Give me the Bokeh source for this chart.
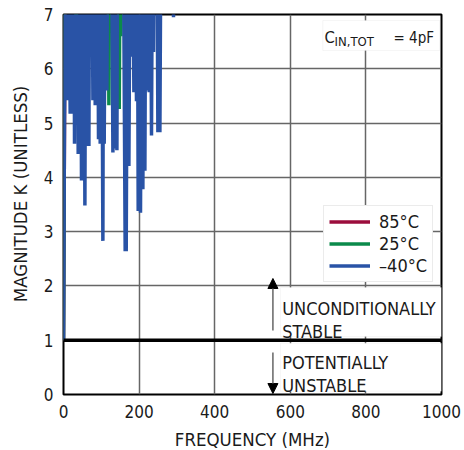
from bokeh.plotting import figure
from bokeh.models import (Range1d, Legend, LegendItem, Label, BoxAnnotation,
                          Arrow, NormalHead, FixedTicker)
from bokeh.embed import file_html
from bokeh.resources import INLINE

FONT = "'DejaVu Sans Condensed', Roboto, sans-serif"
RED = "#9b0d3c"
GREEN = "#0b8a4b"
BLUE = "#2953a6"
TXT = "#1a1a1a"

# -40°C series (values above 7 are off-scale)
freq_m40 = [0, 5.3, 10.6, 13, 17.7, 20, 22.2, 24.5, 26.5, 27.8, 29.1, 31, 36, 38.9, 40.5,
            42.3, 45, 47.6, 49.5, 51.3, 54, 56.6, 59, 61.9, 64.5, 67.2, 69, 75, 77.8, 81,
            83.9, 86, 90, 92.6, 95, 97.1, 100.5, 104.2, 106, 107.7, 111, 114.8, 117, 127, 130.7,
            134.5, 138.6, 140, 141.3, 143, 158, 163.2, 164.5, 165.9, 169.5, 173, 176.5, 179.9, 183, 186.2,
            189.5, 193.1, 195.3, 197.6, 200.5, 203.7, 207, 210, 212.5, 215.3, 218, 220.6, 223.5, 226.7, 230,
            232.8, 235.5, 238.1, 240, 247, 249.7, 252.5, 255, 258, 289, 291, 293, 400, 600, 800, 1000]
k_m40 = [1.0, 9, 5.42, 9, 5.17, 9, 5.17, 9, 5.79, 9, 4.62, 9, 9, 4.43, 9,
         5.8, 9, 3.94, 9, 4.0, 9, 3.48, 9, 4.58, 9, 4.58, 9, 9, 5.42, 9,
         5.33, 9, 9, 4.7, 9, 4.62, 9, 2.83, 9, 4.62, 9, 5.6, 9, 9, 4.46,
         9, 4.53, 9, 4.5, 9, 9, 2.64, 9, 2.64, 9, 4.21, 9, 6.22, 9, 5.57,
         9, 5.4, 9, 3.38, 9, 3.35, 9, 3.78, 9, 4.12, 9, 5.6, 9, 5.57, 9,
         4.77, 9, 6.31, 9, 9, 4.83, 9, 4.83, 9, 9, 6.95, 9, 10, 11, 12, 12]

# 25°C series (mostly hidden under -40°C)
freq_25 = [0, 4, 31.5, 33.6, 35.5, 117.5, 120.1, 122.5, 145, 147.5, 150, 152, 155, 1000]
k_25 = [1.0, 9, 9, 6.06, 9, 9, 5.33, 9, 9, 5.26, 9, 6.6, 9, 12]

# 85°C series (hidden under the others)
freq_85 = [0, 5.3, 1000]
k_85 = [1.0, 9, 12]

# stability boundary K = 1
boundary_freq = [0, 1000]
boundary_k = [1, 1]

x_ticks = [0, 200, 400, 600, 800, 1000]
y_ticks = [0, 1, 2, 3, 4, 5, 6, 7]

p = figure(frame_width=378, frame_height=380, min_border_left=63, min_border_right=23,
           min_border_top=14, min_border_bottom=56, output_backend="svg",
           toolbar_location=None, x_range=Range1d(0, 1000), y_range=Range1d(0, 7))
p.background_fill_color = "white"
p.border_fill_color = "white"
p.outline_line_color = "black"
p.outline_line_width = 2

for ax in (p.xaxis[0], p.yaxis[0]):
    ax.axis_line_color = None
    ax.major_tick_line_color = None
    ax.minor_tick_line_color = None
    ax.major_tick_out = 0
    ax.major_tick_in = 0
    ax.major_label_text_font = FONT
    ax.major_label_text_font_size = "17px"
    ax.major_label_text_color = TXT
    ax.axis_label_text_font = FONT
    ax.axis_label_text_font_size = "18.5px"
    ax.axis_label_text_font_style = "normal"
    ax.axis_label_text_color = TXT
    ax.major_label_standoff = 10

p.xaxis.ticker = FixedTicker(ticks=x_ticks)
p.yaxis.ticker = FixedTicker(ticks=y_ticks)
p.xaxis.axis_label = "FREQUENCY (MHz)"
p.xaxis.axis_label_standoff = 8
# leading no-break spaces lift the title slightly above the frame centre, as in the original
p.yaxis.axis_label = "\u00a0\u00a0\u00a0\u00a0MAGNITUDE K (UNITLESS)"
p.yaxis.axis_label_standoff = 10

p.grid.grid_line_color = "#666666"
p.grid.grid_line_width = 1.5

r85 = p.line(freq_85, k_85, color=RED, line_width=3.5, line_join="bevel")
r25 = p.line(freq_25, k_25, color=GREEN, line_width=3.5, line_join="bevel")
rm40 = p.line(freq_m40, k_m40, color=BLUE, line_width=3.5, line_join="bevel")
p.line(boundary_freq, boundary_k, color="black", line_width=3.5)

legend = Legend(items=[LegendItem(label="85°C", renderers=[r85]),
                       LegendItem(label="25°C", renderers=[r25]),
                       LegendItem(label="\u201340°C", renderers=[rm40])],
                location=(260, 112), padding=5, spacing=1, margin=0,
                glyph_width=41, glyph_height=21, label_height=21, label_standoff=9,
                label_text_font=FONT, label_text_font_size="18px", label_text_color=TXT,
                border_line_color="#d8d8d8", border_line_width=1,
                background_fill_color="white", background_fill_alpha=1)
p.add_layout(legend, "center")

# boxes behind annotation texts
p.add_layout(BoxAnnotation(left=686, right=995, bottom=6.336, top=6.889,
                           fill_color="white", fill_alpha=1, line_color="#e2e2e2", line_width=1))
p.add_layout(BoxAnnotation(left=574, right=1000, bottom=1.068, top=1.971,
                           fill_color="white", fill_alpha=1, line_color="#e2e2e2", line_width=1))
p.add_layout(BoxAnnotation(left=574, right=1000, bottom=0.061, top=0.945,
                           fill_color="white", fill_alpha=1, line_color="#e2e2e2", line_width=1))

def lab(x, y, t, size="18px"):
    p.add_layout(Label(x=x, y=y, text=t, text_font=FONT, text_font_size=size,
                       text_color=TXT, text_baseline="alphabetic", text_align="left"))

lab(690.5, 6.570, "C", "16.5px")
lab(717, 6.508, "IN,TOT", "13px")
lab(873, 6.570, "= 4pF", "15px")
lab(578.6, 1.578, "UNCONDITIONALLY")
lab(578.6, 1.166, "STABLE")
lab(578.6, 0.595, "POTENTIALLY")
lab(578.6, 0.166, "UNSTABLE")

p.add_layout(Arrow(end=NormalHead(size=10, fill_color="black", line_color="black"),
                   x_start=554, y_start=1.179, x_end=554, y_end=2.137,
                   line_color="#666666", line_width=1.5))
p.add_layout(Arrow(end=NormalHead(size=10, fill_color="black", line_color="black"),
                   x_start=554, y_start=0.774, x_end=554, y_end=0.018,
                   line_color="#666666", line_width=1.5))

open("out.html", "w").write(file_html(p, INLINE))
